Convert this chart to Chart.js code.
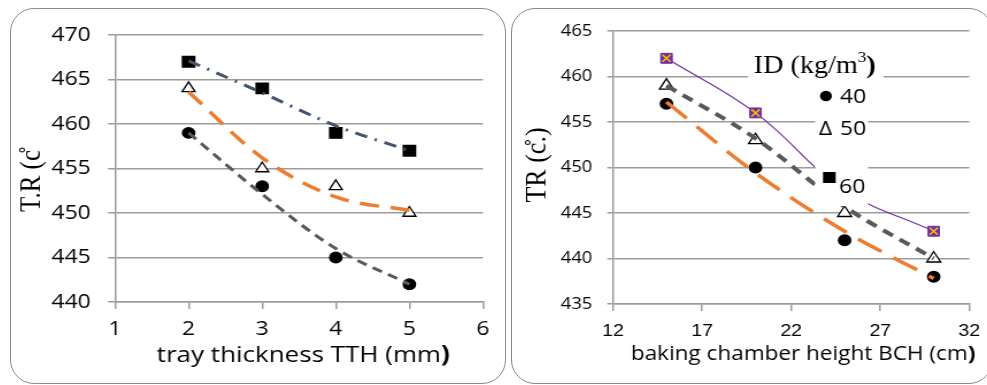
<!DOCTYPE html>
<html>
<head>
<meta charset="utf-8">
<script src="https://cdn.jsdelivr.net/npm/chart.js@4.4.1/dist/chart.umd.min.js"></script>
<style>
  html, body { margin: 0; padding: 0; background: #fff; }
  body { width: 987px; height: 385px; position: relative; overflow: hidden; }
  .box { position: absolute; border: 1px solid #8c8c8c; border-radius: 24px; box-sizing: border-box; }
  canvas { position: absolute; transform: scaleX(1.15); transform-origin: 0 0; }
</style>
</head>
<body>
<div class="box" style="left:10px;top:8px;width:496px;height:376px"></div>
<div class="box" style="left:511px;top:8px;width:482px;height:376px"></div>
<canvas id="tthChart" width="431" height="376" style="left:10px;top:8px"></canvas>
<canvas id="bchChart" width="418" height="376" style="left:511px;top:8px"></canvas>
<script>
// left chart: tray thickness TTH (mm)
const tthValues = [2, 3, 4, 5];
const trTth40 = [459, 453, 445, 442];
const trTth50 = [464, 455, 453, 450];
const trTth60 = [467, 464, 459, 457];
// trend lines at the same x values
const fitTth40 = [459.0, 452.1, 446.0, 442.0];
const fitTth50 = [463.6, 456.2, 451.8, 450.3];
const fitTth60 = [467.1, 463.5, 459.8, 457.0];

// right chart: baking chamber height BCH (cm)
const bchValues = [15, 20, 25, 30];
const trBch40 = [457, 450, 442, 438];
const trBch50 = [459, 453, 445, 440];
const trBch60 = [462, 456, 447.5, 443];
const fitBch40 = [457.2, 449.4, 443.0, 437.8];
const fitBch50 = [459.0, 453.2, 445.7, 440.0];

const idLabels = ["40", "50", "60"];

const gridColor = "#9c9c9c";

function pts(xs, ys) {
    return xs.map((x, i) => ({ x: x, y: ys[i] }));
}

function trend(xs, ys, color, width, dash) {
    return {
        data: pts(xs, ys),
        borderColor: color,
        borderWidth: width,
        borderDash: dash,
        pointRadius: 0,
        cubicInterpolationMode: "monotone",
        fill: false,
    };
}

function markers(xs, ys, style, radius, fill) {
    return {
        data: pts(xs, ys),
        showLine: false,
        pointStyle: style,
        pointRadius: radius,
        pointBackgroundColor: fill,
        pointBorderColor: "#000",
        pointBorderWidth: 1.3,
    };
}

const axisTitles = {
    id: "axisTitles",
    afterDraw(chart, args, opts) {
        const ctx = chart.ctx;
        ctx.save();
        ctx.fillStyle = "#000";
        ctx.textAlign = "left";
        ctx.textBaseline = "alphabetic";
        const nFont = opts.xSize + 'px "Open Sans"';
        const bFont = "bold " + opts.xSize + 'px "Open Sans"';
        ctx.font = nFont;
        const w1 = ctx.measureText(opts.xText).width;
        ctx.font = bFont;
        const w2 = ctx.measureText(")").width;
        const sx = opts.xCx - (w1 + w2) / 2;
        ctx.font = nFont;
        ctx.fillText(opts.xText, sx, opts.xY);
        ctx.font = bFont;
        ctx.fillText(")", sx + w1, opts.xY);

        ctx.translate(opts.yCx, opts.yCy);
        ctx.rotate(-Math.PI / 2);
        ctx.font = opts.ySize + 'px "Liberation Serif"';
        ctx.textAlign = "center";
        ctx.textBaseline = "middle";
        ctx.fillText(opts.yText, 0, 0);
        ctx.restore();
    },
};

const idLegend = {
    id: "idLegend",
    afterDatasetsDraw(chart) {
        const ctx = chart.ctx;
        ctx.save();
        ctx.fillStyle = "#fff";
        ctx.fillRect(206, 37, 118, 37);
        ctx.fillRect(264.5, 76, 46, 122);
        ctx.fillStyle = "#000";
        ctx.textAlign = "left";
        ctx.textBaseline = "alphabetic";
        let x = 211;
        ctx.font = '24.5px "Liberation Serif"';
        ctx.fillText("ID (kg/m", x, 65);
        x += ctx.measureText("ID (kg/m").width;
        ctx.font = '15px "Liberation Serif"';
        ctx.fillText("3", x, 54);
        x += ctx.measureText("3").width;
        ctx.font = 'bold 24.5px "Liberation Serif"';
        ctx.fillText(")", x, 65);

        ctx.font = '20px "Open Sans"';
        ctx.beginPath();
        ctx.arc(273.9, 88, 5.2, 0, 2 * Math.PI);
        ctx.fill();
        ctx.fillText(idLabels[0], 286, 95);
        ctx.fillText("\u0394", 267.8, 127);
        ctx.fillText(idLabels[1], 286, 127);
        ctx.fillRect(271.3, 164, 11, 11);
        ctx.fillText(idLabels[2], 285.2, 185);
        ctx.restore();
    },
};

function axes(xMin, xMax, xStep, yMin, yMax, opt) {
    return {
        x: {
            type: "linear",
            min: xMin,
            max: xMax,
            ticks: {
                stepSize: xStep,
                color: "#000",
                font: { family: opt.xFont, size: opt.xSize },
                padding: opt.xPad,
                maxRotation: 0,
            },
            grid: { drawOnChartArea: false, tickLength: 7, color: gridColor, lineWidth: 1.5 },
            border: { color: gridColor, width: 1.5 },
            afterFit: (s) => { s.height = opt.xHeight; },
        },
        y: {
            min: yMin,
            max: yMax,
            ticks: {
                stepSize: 5,
                color: "#000",
                font: { family: "Open Sans", size: opt.ySize },
                padding: opt.yPad,
            },
            grid: { tickLength: opt.yTick, color: gridColor, lineWidth: 1.5 },
            border: { color: gridColor, width: 1.5 },
            afterFit: (s) => { s.width = opt.yWidth; },
        },
    };
}

new Chart(document.getElementById("tthChart"), {
    type: "line",
    data: {
        datasets: [
            trend(tthValues, fitTth40, "#595959", 3, [9, 6]),
            trend(tthValues, fitTth50, "#ED7D31", 3.5, [17, 10]),
            trend(tthValues, fitTth60, "#44546A", 3, [11, 7, 2, 7]),
            markers(tthValues, trTth40, "circle", 5.3, "#000"),
            markers(tthValues, trTth50, "triangle", 6.5, "#fff"),
            markers(tthValues, trTth60, "rect", 7.5, "#000"),
        ],
    },
    options: {
        responsive: false,
        animation: false,
        layout: { padding: { left: 0, top: 25, right: 19.7, bottom: 0 } },
        plugins: {
            legend: { display: false },
            tooltip: { enabled: false },
            axisTitles: {
                xText: "tray thickness TTH (mm",
                xSize: 22.6,
                xCx: 255,
                xY: 354,
                yText: "T.R (c\u030A",
                ySize: 25,
                yCx: 19,
                yCy: 173,
            },
        },
        scales: axes(1, 6, 1, 440, 470, {
            xFont: "Open Sans", xSize: 20, xPad: 8, xHeight: 82,
            ySize: 20, yPad: 15, yTick: 6, yWidth: 91.3,
        }),
    },
    plugins: [axisTitles],
});

new Chart(document.getElementById("bchChart"), {
    type: "line",
    data: {
        datasets: [
            trend(bchValues, fitBch40, "#ED7D31", 3.5, [24, 12]),
            trend(bchValues, fitBch50, "#595959", 4, [10, 7]),
            {
                data: pts(bchValues, trBch60),
                showLine: false,
                pointStyle: "crossRot",
                pointRadius: 5,
                pointBorderColor: "#FFC000",
                pointBorderWidth: 1.5,
            },
            {
                data: pts(bchValues, trBch60),
                borderColor: "#7030A0",
                borderWidth: 1.2,
                tension: 0.4,
                pointStyle: "rect",
                pointRadius: 7,
                pointBackgroundColor: "#7030A0",
                pointBorderColor: "#7030A0",
                pointBorderWidth: 1,
            },
            markers(bchValues, trBch40, "circle", 5.3, "#000"),
            markers(bchValues, trBch50, "triangle", 7, "#fff"),
        ],
    },
    options: {
        responsive: false,
        animation: false,
        layout: { padding: { left: 0, top: 23, right: 18.9, bottom: 0 } },
        plugins: {
            legend: { display: false },
            tooltip: { enabled: false },
            axisTitles: {
                xText: "baking chamber height BCH (cm",
                xSize: 19.6,
                xCx: 254,
                xY: 352,
                yText: "TR (c\u030A.)",
                ySize: 26,
                yCx: 23.5,
                yCy: 157,
            },
        },
        scales: axes(12, 32, 5, 435, 465, {
            xFont: "Liberation Sans", xSize: 17, xPad: 10, xHeight: 80,
            ySize: 16, yPad: 13, yTick: 5, yWidth: 88.7,
        }),
    },
    plugins: [axisTitles, idLegend],
});
</script>
</body>
</html>
